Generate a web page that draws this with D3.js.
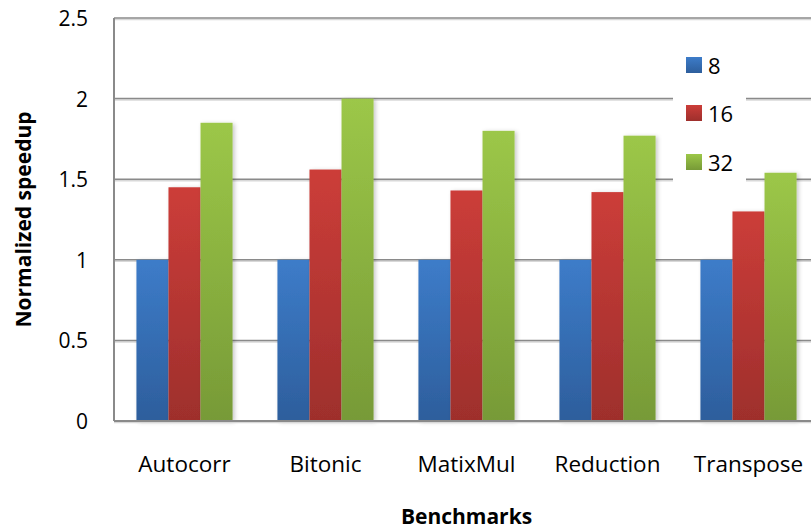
<!DOCTYPE html>
<html>
<head>
<meta charset="utf-8">
<script src="https://cdn.jsdelivr.net/npm/d3@7"></script>
<style>
  html, body { margin: 0; padding: 0; background: #fff; }
  svg { display: block; font-family: "Open Sans", sans-serif; }
</style>
</head>
<body>
<svg id="chart" width="811" height="529"></svg>
<script>
const categories = ["Autocorr", "Bitonic", "MatixMul", "Reduction", "Transpose"];
const seriesNames = ["8", "16", "32"];
const values8  = [1.00, 1.00, 1.00, 1.00, 1.00];
const values16 = [1.45, 1.56, 1.43, 1.42, 1.30];
const values32 = [1.85, 2.00, 1.80, 1.77, 1.54];
const yTicks = [0, 0.5, 1, 1.5, 2, 2.5];
const yTickLabels = ["0", "0.5", "1", "1.5", "2", "2.5"];
const colorsTop = ["#3d7cc9", "#cc3d39", "#9cc748"];
const colorsBottom = ["#2d5e9c", "#9e2f2c", "#779a37"];

const seriesValues = [values8, values16, values32];
const svg = d3.select("#chart");
const margin = {left: 114, top: 18, bottom: 421, right: 819};

const x0 = d3.scaleBand().domain(categories).range([margin.left, margin.right]).paddingInner(0).paddingOuter(0);
const x1 = d3.scaleBand().domain(seriesNames).range([0, x0.bandwidth()]).paddingInner(0).paddingOuter(0.7);
const y = d3.scaleLinear().domain([0, 2.5]).range([margin.bottom, margin.top]);

const defs = svg.append("defs");
seriesNames.forEach((s, i) => {
  const g = defs.append("linearGradient").attr("id", "grad" + i)
    .attr("x1", 0).attr("y1", 0).attr("x2", 0).attr("y2", 1);
  g.append("stop").attr("offset", "0%").attr("stop-color", colorsTop[i]);
  g.append("stop").attr("offset", "100%").attr("stop-color", colorsBottom[i]);
});
const f = defs.append("filter").attr("id", "shadow").attr("x", "-20%").attr("y", "-10%").attr("width", "150%").attr("height", "120%");
f.append("feDropShadow").attr("dx", 2).attr("dy", 1).attr("stdDeviation", 2)
  .attr("flood-color", "#000").attr("flood-opacity", 0.22);

function hline(yy, w) {
  svg.append("line").attr("x1", margin.left).attr("x2", margin.right)
    .attr("y1", yy + 1.5).attr("y2", yy + 1.5)
    .attr("stroke", "#d8d8d8").attr("stroke-width", 1.5);
  svg.append("line").attr("x1", margin.left).attr("x2", margin.right)
    .attr("y1", yy).attr("y2", yy)
    .attr("stroke", "#8a8a8a").attr("stroke-width", w);
}

// gridlines
yTicks.filter(d => d > 0).forEach(d => hline(y(d), 1.5));

// y tick labels
svg.append("g").selectAll("text").data(yTicks).join("text")
  .attr("x", 88).attr("y", d => y(d))
  .attr("text-anchor", "end").attr("dominant-baseline", "central")
  .attr("font-size", 21).attr("fill", "#000")
  .text((d, i) => yTickLabels[i]);

// bars
const groups = svg.append("g").selectAll("g").data(categories).join("g")
  .attr("transform", d => `translate(${x0(d)},0)`);
groups.selectAll("rect").data((c, ci) => seriesNames.map((s, si) => ({s, si, v: seriesValues[si][ci]})))
  .join("rect")
  .attr("x", d => x1(d.s)).attr("width", x1.bandwidth())
  .attr("y", d => y(d.v)).attr("height", d => y(0) - y(d.v))
  .attr("fill", d => `url(#grad${d.si})`)
  .attr("filter", "url(#shadow)");

// axes lines
svg.append("line").attr("x1", margin.left).attr("x2", margin.left)
  .attr("y1", margin.top).attr("y2", margin.bottom)
  .attr("stroke", "#8a8a8a").attr("stroke-width", 2);
hline(margin.bottom, 2);

// category labels
svg.append("g").selectAll("text").data(categories).join("text")
  .attr("x", d => x0(d) + x0.bandwidth() / 2).attr("y", 472)
  .attr("text-anchor", "middle").attr("font-size", 22.5).attr("fill", "#000")
  .text(d => d);

// axis titles
svg.append("text").attr("x", (margin.left + margin.right) / 2).attr("y", 524)
  .attr("text-anchor", "middle").attr("font-size", 21).attr("font-weight", "bold")
  .text("Benchmarks");
svg.append("text")
  .attr("transform", `translate(31,${(margin.top + margin.bottom) / 2}) rotate(-90)`)
  .attr("text-anchor", "middle").attr("font-size", 21).attr("font-weight", "bold")
  .text("Normalized speedup");

// legend
const legend = svg.append("g");
legend.append("rect").attr("x", 673).attr("y", 40).attr("width", 73).attr("height", 148).attr("fill", "#fff");
const legendY = [65, 113, 162];
seriesNames.forEach((s, i) => {
  legend.append("rect").attr("x", 686).attr("y", legendY[i] - 8).attr("width", 16).attr("height", 16)
    .attr("fill", `url(#grad${i})`);
  legend.append("text").attr("x", 708).attr("y", legendY[i])
    .attr("dominant-baseline", "central").attr("font-size", 22).text(s);
});
</script>
</body>
</html>
